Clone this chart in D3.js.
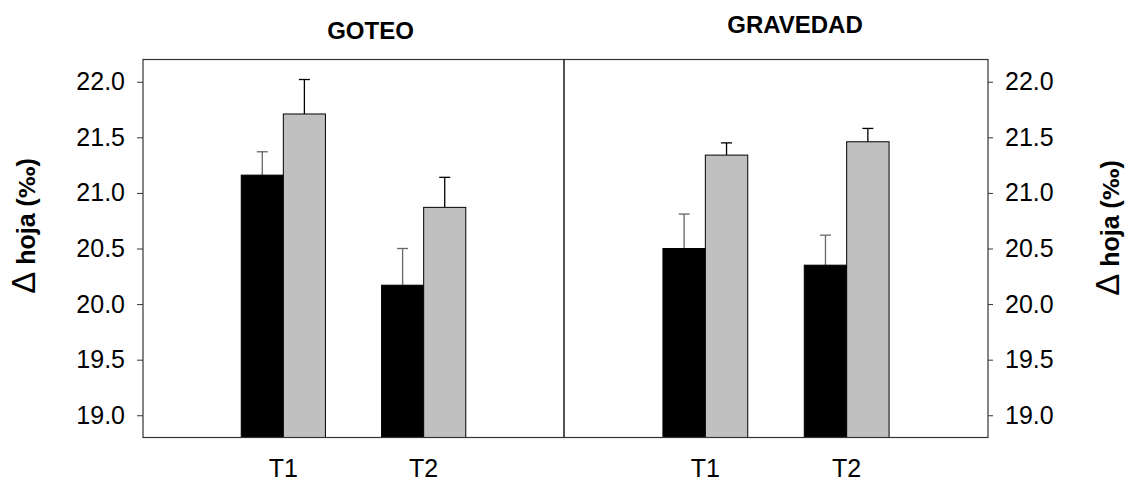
<!DOCTYPE html>
<html>
<head>
<meta charset="utf-8">
<script src="https://cdn.jsdelivr.net/npm/d3@7"></script>
<style>
  html, body { margin: 0; padding: 0; background: #fff; }
  svg { display: block; font-family: "Liberation Sans", Arial, sans-serif; }
</style>
</head>
<body>
<svg id="chart" width="1129" height="480"></svg>
<script>
// Treatments on the x axis of each panel
const treatments = ["T1", "T2"];
// Irrigation systems (one panel each)
const panels = ["GOTEO", "GRAVEDAD"];
// Leaf discrimination means (‰) and standard errors, per panel, T1/T2
const goteoBlack = [21.16, 20.17];
const goteoBlackErr = [0.21, 0.33];
const goteoGray = [21.71, 20.87];
const goteoGrayErr = [0.31, 0.27];
const gravedadBlack = [20.50, 20.35];
const gravedadBlackErr = [0.31, 0.27];
const gravedadGray = [21.34, 21.46];
const gravedadGrayErr = [0.11, 0.12];
// Axis ticks
const yTicks = [19.0, 19.5, 20.0, 20.5, 21.0, 21.5, 22.0];
const yDomain = [18.8, 22.2];

const svg = d3.select("#chart");
const plotTop = 59.5, plotBottom = 437.5;
const panelX = [[143, 564], [564, 988]];

const y = d3.scaleLinear().domain(yDomain).range([plotBottom, plotTop]);

const seriesByPanel = [
  [{vals: goteoBlack, err: goteoBlackErr, fill: "#000000", errColor: "#666666"},
   {vals: goteoGray, err: goteoGrayErr, fill: "#c0c0c0", errColor: "#000000"}],
  [{vals: gravedadBlack, err: gravedadBlackErr, fill: "#000000", errColor: "#666666"},
   {vals: gravedadGray, err: gravedadGrayErr, fill: "#c0c0c0", errColor: "#000000"}]
];

const titleOffsets = [{dx: 17, y: 39}, {dx: 19, y: 33}];

panels.forEach((name, p) => {
  const [x0, x1] = panelX[p];
  const x = d3.scalePoint().domain(treatments).range([x0, x1]).padding(1);
  const barW = (x1 - x0) * 0.1;
  const g = svg.append("g");

  seriesByPanel[p].forEach((s, si) => {
    const offset = si === 0 ? -barW : 0;
    // error bars (upper whisker only)
    treatments.forEach((t, i) => {
      const cx = x(t) + offset + barW / 2;
      const yv = y(s.vals[i]), ye = y(s.vals[i] + s.err[i]);
      g.append("line").attr("x1", cx).attr("x2", cx).attr("y1", yv).attr("y2", ye)
        .attr("stroke", s.errColor).attr("stroke-width", 1.3);
      g.append("line").attr("x1", cx - 5.5).attr("x2", cx + 5.5).attr("y1", ye).attr("y2", ye)
        .attr("stroke", s.errColor).attr("stroke-width", 1.3);
    });
    g.selectAll(null).data(s.vals).enter().append("rect")
      .attr("x", (d, i) => x(treatments[i]) + offset)
      .attr("y", d => y(d))
      .attr("width", barW)
      .attr("height", d => plotBottom - y(d))
      .attr("fill", s.fill)
      .attr("stroke", "#000")
      .attr("stroke-width", 1);
  });

  // panel frame
  g.append("rect").attr("x", x0).attr("y", plotTop).attr("width", x1 - x0).attr("height", plotBottom - plotTop)
    .attr("fill", "none").attr("stroke", "#333").attr("stroke-width", 1.2);

  // treatment labels
  treatments.forEach(t => {
    g.append("text").attr("x", x(t)).attr("y", 476.5).attr("text-anchor", "middle")
      .attr("font-size", 25).attr("fill", "#000").text(t);
  });

  // panel title
  g.append("text").attr("x", (x0 + x1) / 2 + titleOffsets[p].dx).attr("y", titleOffsets[p].y)
    .attr("text-anchor", "middle").attr("font-size", 24).attr("font-weight", "bold")
    .attr("fill", "#000").text(name);
});

// y axes
const fmt = d3.format(".1f");
const leftAxis = d3.axisLeft(y).tickValues(yTicks).tickFormat(fmt).tickSize(6).tickPadding(12);
const rightAxis = d3.axisRight(y).tickValues(yTicks).tickFormat(fmt).tickSize(5).tickPadding(12);

function styleAxis(sel) {
  sel.select(".domain").remove();
  sel.selectAll(".tick line").attr("stroke", "#333");
  sel.selectAll(".tick text").attr("font-size", 25).attr("fill", "#000")
    .attr("font-family", "'Liberation Sans', Arial, sans-serif");
}
svg.append("g").attr("transform", `translate(${panelX[0][0]},0)`).call(leftAxis).call(styleAxis);
svg.append("g").attr("transform", `translate(${panelX[1][1]},0)`).call(rightAxis).call(styleAxis);

// y axis titles
function yTitle(cx, cy) {
  const t = svg.append("text")
    .attr("transform", `translate(${cx},${cy}) rotate(-90)`)
    .attr("text-anchor", "middle").attr("fill", "#000");
  t.append("tspan").attr("font-size", 33).text("Δ");
  t.append("tspan").attr("font-size", 25).attr("font-weight", "bold").text(" hoja (");
  t.append("tspan").attr("font-size", 22).attr("font-weight", "bold")
    .attr("font-family", "'DejaVu Sans', sans-serif").text("‰");
  t.append("tspan").attr("font-size", 25).attr("font-weight", "bold").text(")");
}
yTitle(35, 226);
yTitle(1119, 228);
</script>
</body>
</html>
